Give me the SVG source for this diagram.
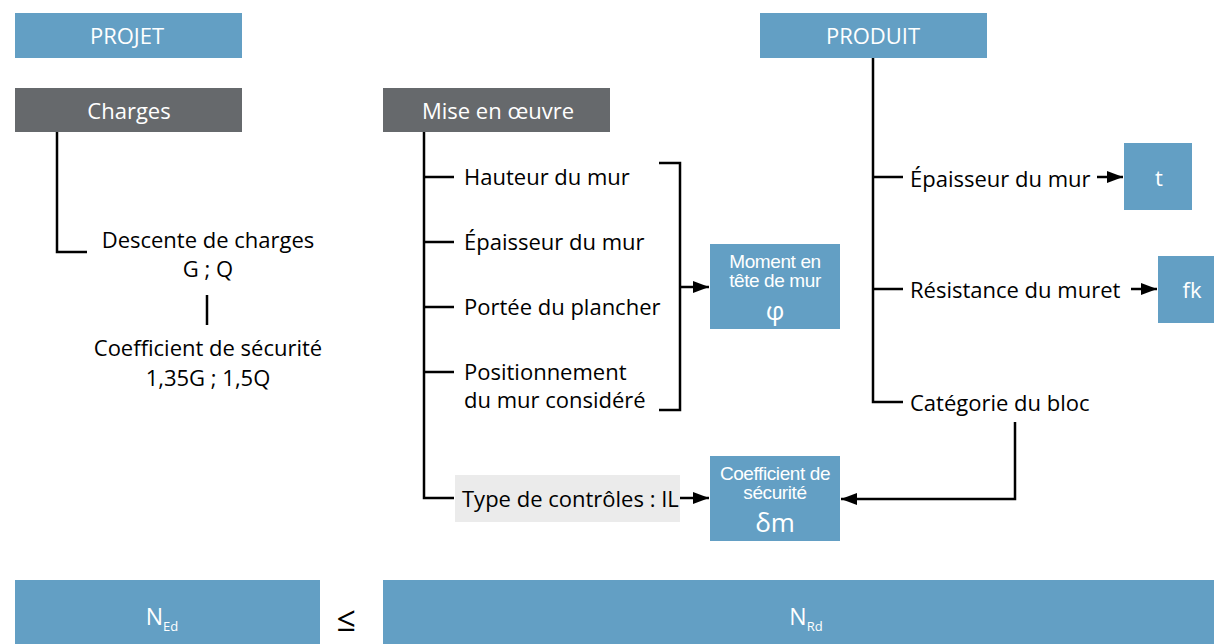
<svg xmlns="http://www.w3.org/2000/svg" width="1214" height="644" viewBox="0 0 1214 644">
<defs>
<style>
.blue{fill:#639fc4}
.grey{fill:#66696c}
.lt{fill:#ebebeb}
text{font-family:"Open Sans","Liberation Sans",sans-serif}
.w{fill:#fff;font-size:22px;text-anchor:middle}
.ws{fill:#fff;font-family:"Liberation Sans",Arial,sans-serif;font-size:19px;text-anchor:middle;letter-spacing:-0.4px}
.sym{font-family:"Open Sans","Liberation Sans",sans-serif;font-size:26px;letter-spacing:0}
.k{fill:#000;font-size:22px}
.kc{fill:#000;font-size:22px;text-anchor:middle}
.sub{font-size:13px}
.n{fill:#fff;font-size:23px;text-anchor:middle}
.leq{fill:#000;font-size:34px;text-anchor:middle}
.ln{fill:none;stroke:#000;stroke-width:2.5}
</style>
<marker id="ah" viewBox="0 0 16 12" refX="16" refY="6" markerWidth="16" markerHeight="12" markerUnits="userSpaceOnUse" orient="auto"><path d="M0,0 L16,6 L0,12 z" fill="#000"/></marker>
</defs>
<rect width="1214" height="644" fill="#fff"/>
<g id="connectors">
<path class="ln" d="M57,132 V252 H87"/>
<path class="ln" d="M207,295 V325"/>
<path class="ln" d="M424,132 V498 H454 M424,177 H454 M424,242 H454 M424,307 H454 M424,372 H454"/>
<path class="ln" d="M659,163 H680 V410 H659"/>
<path class="ln" d="M680,287 H709" marker-end="url(#ah)"/>
<path class="ln" d="M680,498 H709" marker-end="url(#ah)"/>
<path class="ln" d="M873,58 V402 H903 M873,177 H903 M873,289 H903"/>
<path class="ln" d="M1097,177 H1123" marker-end="url(#ah)"/>
<path class="ln" d="M1131,289 H1157" marker-end="url(#ah)"/>
<path class="ln" d="M1015,422 V499 H841" marker-end="url(#ah)"/>
</g>
<g id="projet"><rect class="blue" x="15" y="13" width="227" height="45"/><text class="w" x="127" y="44">PROJET</text></g>
<g id="charges"><rect class="grey" x="15" y="88" width="227" height="44"/><text class="w" x="129" y="119">Charges</text></g>
<g id="descente"><text class="kc" x="208" y="248">Descente de charges</text><text class="kc" x="208" y="277">G ; Q</text></g>
<g id="coef-charges"><text class="kc" x="208" y="356">Coefficient de sécurité</text><text class="kc" x="208" y="386">1,35G ; 1,5Q</text></g>
<g id="mise"><rect class="grey" x="383" y="88" width="227" height="44"/><text class="w" x="498" y="119">Mise en œuvre</text></g>
<g id="hauteur"><text class="k" x="464" y="185">Hauteur du mur</text></g>
<g id="epaisseur1"><text class="k" x="464" y="250">Épaisseur du mur</text></g>
<g id="portee"><text class="k" x="464" y="315">Portée du plancher</text></g>
<g id="position"><text class="k" x="464" y="380">Positionnement</text><text class="k" x="464" y="408">du mur considéré</text></g>
<g id="type"><rect class="lt" x="455" y="475" width="225" height="47"/><text class="k" x="462" y="507">Type de contrôles : IL</text></g>
<g id="moment"><rect class="blue" x="710" y="244" width="130" height="85"/><text class="ws"><tspan x="775" y="268">Moment en</tspan><tspan x="775" y="287">tête de mur</tspan><tspan class="sym" x="775" y="320">φ</tspan></text></g>
<g id="coef"><rect class="blue" x="710" y="456" width="130" height="85"/><text class="ws"><tspan x="775" y="480">Coefficient de</tspan><tspan x="775" y="499">sécurité</tspan><tspan class="sym" x="775" y="532">δm</tspan></text></g>
<g id="produit"><rect class="blue" x="760" y="13" width="227" height="45"/><text class="w" x="873" y="44">PRODUIT</text></g>
<g id="epaisseur2"><text class="k" x="910" y="187">Épaisseur du mur</text></g>
<g id="t"><rect class="blue" x="1124" y="143" width="68" height="67"/><text class="w" x="1159" y="186">t</text></g>
<g id="resistance"><text class="k" x="910" y="298">Résistance du muret</text></g>
<g id="fk"><rect class="blue" x="1158" y="256" width="56" height="67"/><text class="w" x="1192" y="298">fk</text></g>
<g id="categorie"><text class="k" x="910" y="411">Catégorie du bloc</text></g>
<g id="ned"><rect class="blue" x="15" y="580" width="305" height="64"/><text class="n" x="162" y="625">N<tspan class="sub" dy="6">Ed</tspan></text></g>
<g id="leq"><text class="leq" x="346" y="631">≤</text></g>
<g id="nrd"><rect class="blue" x="383" y="580" width="831" height="64"/><text class="n" x="806" y="625">N<tspan class="sub" dy="6">Rd</tspan></text></g>
</svg>
